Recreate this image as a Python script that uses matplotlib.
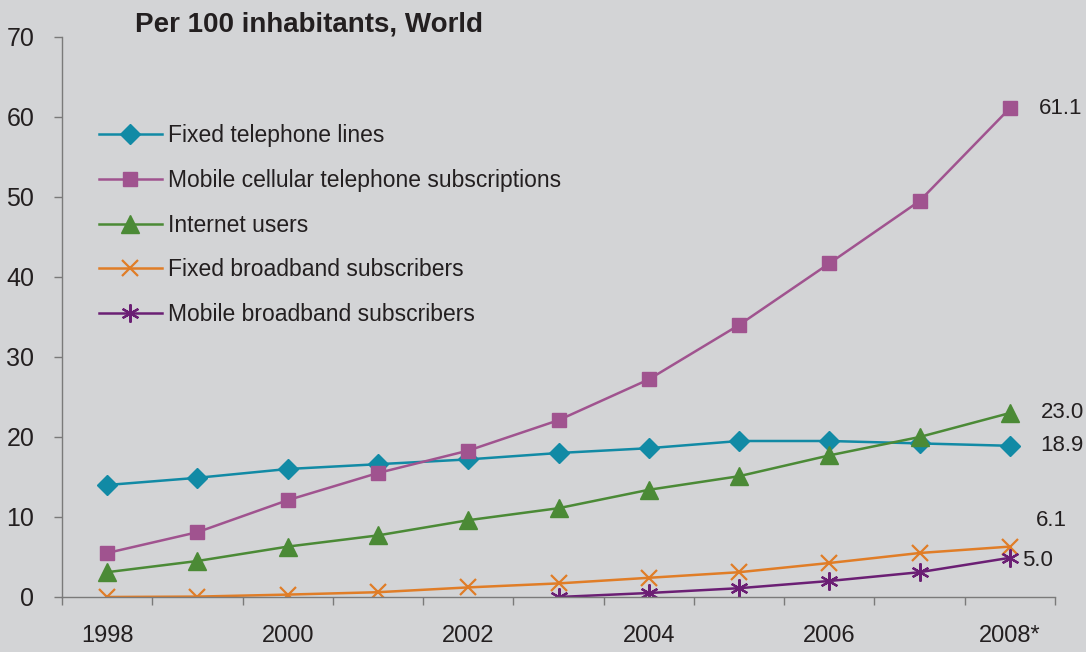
import numpy as np
import matplotlib
matplotlib.use('Agg')
import matplotlib.pyplot as plt

# data
years = ['1998', '1999', '2000', '2001', '2002', '2003', '2004', '2005', '2006', '2007', '2008*']
fixed_tel = [14.0, 14.9, 16.0, 16.6, 17.2, 18.0, 18.6, 19.5, 19.5, 19.2, 18.9]
mobile_cell = [5.5, 8.1, 12.1, 15.5, 18.3, 22.1, 27.2, 34.0, 41.7, 49.5, 61.1]
internet = [3.1, 4.5, 6.3, 7.7, 9.6, 11.1, 13.4, 15.1, 17.7, 20.0, 23.0]
fixed_bb = [0.0, 0.05, 0.3, 0.6, 1.2, 1.7, 2.4, 3.1, 4.25, 5.5, 6.3]
mobile_bb = [0.0, 0.5, 1.1, 2.0, 3.1, 4.9]   # from 2003
end_labels = ['61.1', '23.0', '18.9', '6.1', '5.0']

plt.rcParams['font.family'] = ['Liberation Sans', 'DejaVu Sans']

bg = '#d3d4d6'
fig = plt.figure(figsize=(10.86, 6.52), dpi=100, facecolor=bg)
ax = fig.add_axes([62/1086, 1-597/652, (1055-62)/1086, (597-37)/652])
ax.set_facecolor(bg)

x = np.arange(len(years))
x_mbb = x[5:]

c_tel = '#118aa5'
c_mob = '#a0538f'
c_int = '#4b8a36'
c_fbb = '#e07d27'
c_mbb = '#6b1f74'

ax.plot(x, fixed_tel, color=c_tel, lw=1.8, marker='D', ms=10, label='Fixed telephone lines')
ax.plot(x, mobile_cell, color=c_mob, lw=1.8, marker='s', ms=10, label='Mobile cellular telephone subscriptions')
ax.plot(x, internet, color=c_int, lw=1.8, marker='^', ms=13, label='Internet users')
ax.plot(x, fixed_bb, color=c_fbb, lw=1.8, marker='x', ms=12, mew=1.6, label='Fixed broadband subscribers')
ax.plot(x_mbb, mobile_bb, color=c_mbb, lw=1.8, marker=(6, 2, 0), ms=13, mew=1.6,
        label='Mobile broadband subscribers')

# end value labels
txt = dict(textcoords='offset points', va='center', ha='left', fontsize=16, color='#231f20')
ax.annotate(end_labels[0], (x[-1], mobile_cell[-1]), xytext=(21, 0), **txt)
ax.annotate(end_labels[1], (x[-1], internet[-1]), xytext=(22, 0), **txt)
ax.annotate(end_labels[2], (x[-1], fixed_tel[-1]), xytext=(22, 0), **txt)
ax.annotate(end_labels[3], (x[-1], fixed_bb[-1]), xytext=(19, 19), **txt)
ax.annotate(end_labels[4], (x[-1], mobile_bb[-1]), xytext=(9, -2), **txt)

ax.set_xlim(-0.5, len(years) - 0.5)
ax.set_ylim(0, 70)
ax.set_yticks(range(0, 71, 10))
ax.set_xticks(x[::2])
ax.set_xticklabels(years[::2])
ax.set_xticks(np.arange(-0.5, len(years), 1), minor=True)

for s in ['top', 'right']:
    ax.spines[s].set_visible(False)
for s in ['left', 'bottom']:
    ax.spines[s].set_color('#7a7a7a')
    ax.spines[s].set_linewidth(1.0)

ax.tick_params(axis='y', direction='out', length=6, width=1, color='#7a7a7a',
               labelsize=18, pad=14, labelcolor='#231f20')
ax.tick_params(axis='x', which='major', length=0, labelsize=17, pad=20, labelcolor='#231f20')
ax.tick_params(axis='x', which='minor', direction='out', length=6, width=1, color='#7a7a7a')

fig.text(135/1086, 1-25/652, 'Per 100 inhabitants, World', fontsize=20, fontweight='bold',
         color='#231f20', ha='left', va='center')

leg = ax.legend(loc='upper left', bbox_to_anchor=(0.028, 0.861), frameon=False, fontsize=16.5,
                handlelength=2.75, handletextpad=0.25, labelspacing=0.95, borderaxespad=0)
for t in leg.get_texts():
    t.set_color('#231f20')

fig.savefig('out.png', dpi=100, facecolor=bg)
